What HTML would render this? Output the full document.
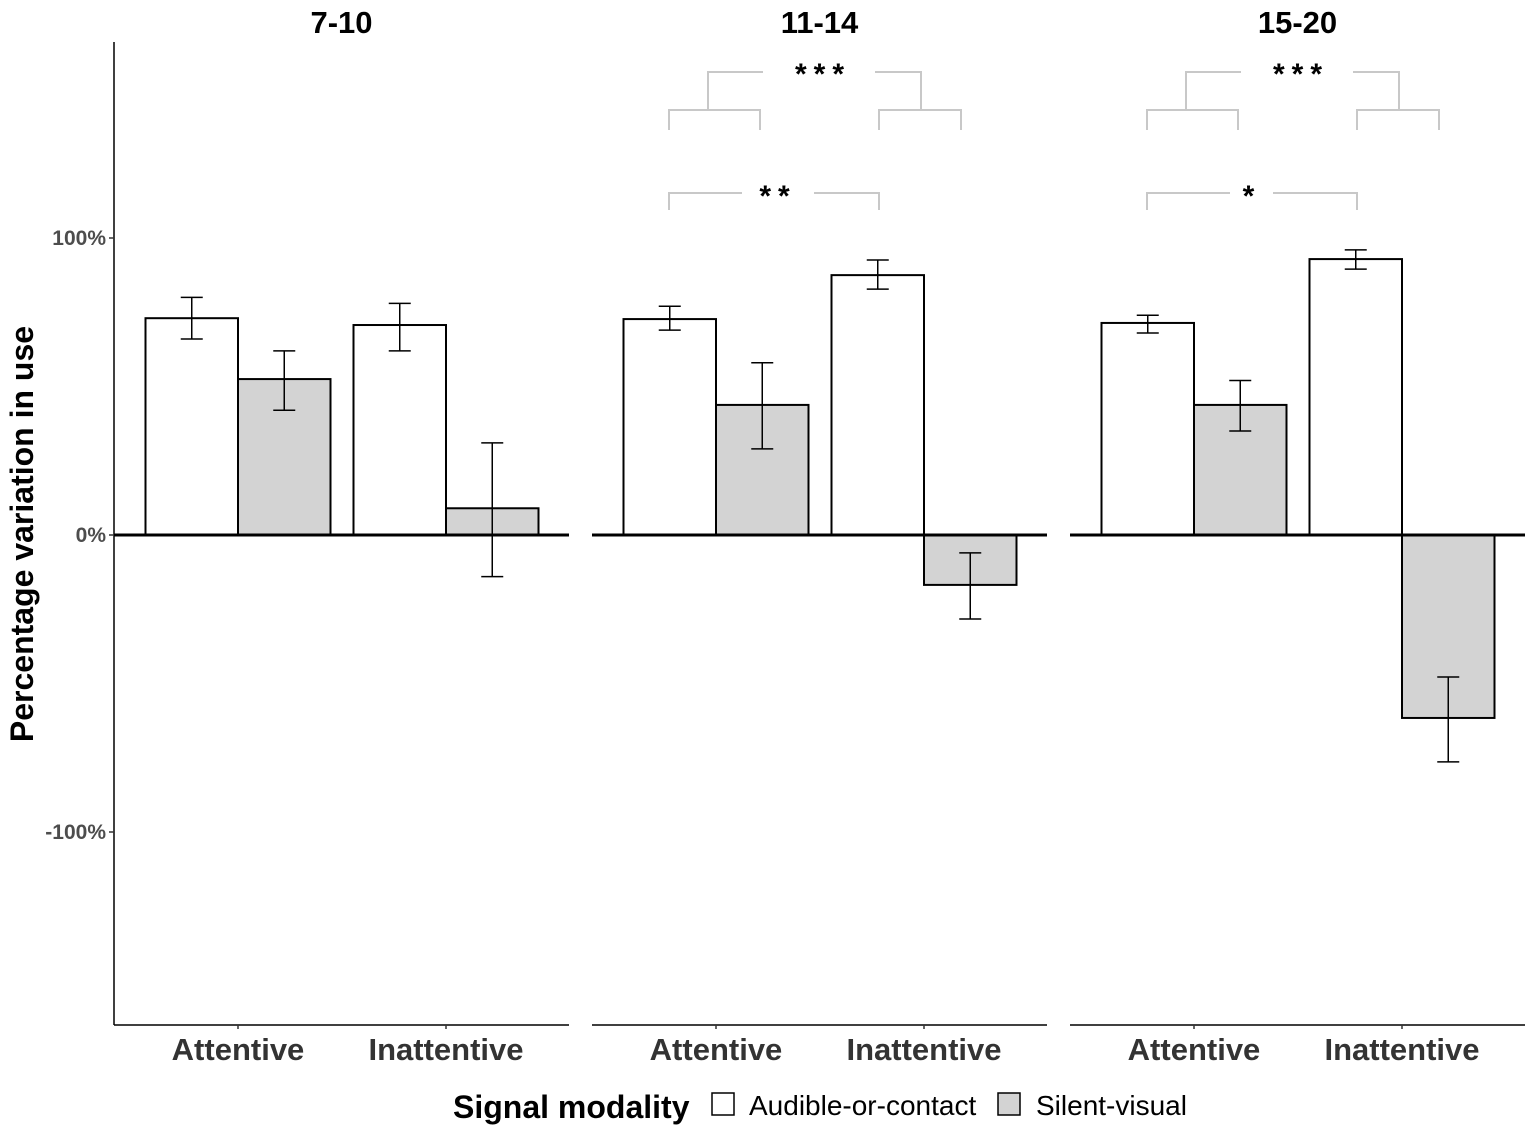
<!DOCTYPE html>
<html><head><meta charset="utf-8"><style>
body{margin:0;background:#fff}
svg text{font-family:"Liberation Sans",sans-serif}
</style></head><body>
<svg id="c" width="1535" height="1133" xmlns="http://www.w3.org/2000/svg"></svg>
<script>
const panels=["7-10","11-14","15-20"];
const categories=["Attentive","Inattentive"];
const audible=[[0.73,0.707],[0.727,0.875],[0.714,0.929]];
const audibleLo=[[0.66,0.62],[0.69,0.828],[0.68,0.895]];
const audibleHi=[[0.80,0.78],[0.77,0.926],[0.74,0.96]];
const silent=[[0.525,0.09],[0.438,-0.168],[0.438,-0.616]];
const silentLo=[[0.42,-0.14],[0.29,-0.283],[0.35,-0.764]];
const silentHi=[[0.62,0.31],[0.58,-0.06],[0.52,-0.478]];
const yTicks=[1,0,-1];
const yTickLabels=["100%","0%","-100%"];
const sigTop=["","***","***"];
const sigLow=["","**","*"];
const NS="http://www.w3.org/2000/svg";
const svg=document.getElementById('c');
function el(t,a,p){const e=document.createElementNS(NS,t);for(const k in a)e.setAttribute(k,a[k]);(p||svg).appendChild(e);return e;}
const y=v=>535-v*297;
const panelX=[114,592,1070],panelW=455,bw=92.5;
const catOff=[124,332];
let ax=el('line',{x1:114,y1:42,x2:114,y2:1025,stroke:'#000','stroke-width':1.5});

yTicks.forEach((t,i)=>{
 let l=el('line',{x1:109,x2:114,y1:y(t),y2:y(t),stroke:'#333','stroke-width':1.5});
 
 let tx=el('text',{x:106,y:y(t)+7,'text-anchor':'end','font-size':21,'font-weight':'bold',fill:'#4d4d4d'});
 tx.textContent=yTickLabels[i];
});
let yt=el('text',{x:0,y:0,transform:'translate(33,534) rotate(-90)','text-anchor':'middle','font-size':32,'font-weight':'bold'});
yt.textContent='Percentage variation in use';
function errbar(cx,lo,hi){
 const g=el('g',{stroke:'#000','stroke-width':1.5});
 
 el('line',{x1:cx,x2:cx,y1:y(hi),y2:y(lo)},g);
 el('line',{x1:cx-11,x2:cx+11,y1:y(hi),y2:y(hi)},g);
 el('line',{x1:cx-11,x2:cx+11,y1:y(lo),y2:y(lo)},g);
}
function bar(x,v,fill,name){
 const r=el('rect',{x:x,y:Math.min(y(v),y(0)),width:bw,height:Math.abs(y(v)-y(0)),fill:fill,stroke:'#000','stroke-width':2});
 
}
panels.forEach((p,pi)=>{
 const px=panelX[pi];
 let t=el('text',{x:px+panelW/2,y:33,'text-anchor':'middle','font-size':31,'font-weight':'bold'});
 t.textContent=p;
 let b=el('line',{x1:px,x2:px+panelW,y1:1025,y2:1025,stroke:'#000','stroke-width':1.5});
 
 categories.forEach((c,ci)=>{
  const cx=px+catOff[ci];
  bar(cx-bw,audible[pi][ci],'#fff','bar-audible');
  bar(cx,silent[pi][ci],'#d3d3d3','bar-silent');
  errbar(cx-bw/2,audibleLo[pi][ci],audibleHi[pi][ci]);
  errbar(cx+bw/2,silentLo[pi][ci],silentHi[pi][ci]);
  let tk=el('line',{x1:cx,x2:cx,y1:1025,y2:1029,stroke:'#333','stroke-width':1.5});
  
  let l=el('text',{x:cx,y:1060,'text-anchor':'middle','font-size':31,'font-weight':'bold',fill:'#333'});
  l.textContent=c;
 });
 let z=el('line',{x1:px,x2:px+panelW,y1:y(0),y2:y(0),stroke:'#000','stroke-width':3});
 
 if(sigTop[pi]){
  const g=el('g',{stroke:'#c8c8c8','stroke-width':2,fill:'none'});
  
  const a1=px+77,a2=px+168,i1=px+287,i2=px+369,am=px+116,im=px+329,mid=px+227;
  el('polyline',{points:`${a1},130 ${a1},110 ${a2},110 ${a2},130`},g);
  el('polyline',{points:`${i1},130 ${i1},110 ${i2},110 ${i2},130`},g);
  el('polyline',{points:`${am},110 ${am},72 ${mid-56},72`},g);
  el('polyline',{points:`${mid+56},72 ${im},72 ${im},110`},g);
  el('polyline',{points:`${a1},210 ${a1},193 ${px+(pi==1?150:160)},193`},g);
  el('polyline',{points:`${px+(pi==1?222:203)},193 ${i1},193 ${i1},210`},g);
  let s=el('text',{x:mid+4,y:84,'text-anchor':'middle','font-size':30,'font-weight':'bold','letter-spacing':7});
  s.textContent=sigTop[pi];
  let s2=el('text',{x:(pi==1?px+186:px+182),y:206,'text-anchor':'middle','font-size':30,'font-weight':'bold','letter-spacing':7});
  s2.textContent=sigLow[pi];
 }
});
const lg=el('g',{});
let lt=el('text',{x:453,y:1118,'font-size':32,'font-weight':'bold'},lg);lt.textContent='Signal modality';

let r1=el('rect',{x:712,y:1093,width:22,height:22,fill:'#fff',stroke:'#000','stroke-width':1.5},lg);

let t1=el('text',{x:749,y:1115,'font-size':28},lg);t1.textContent='Audible-or-contact';

let r2=el('rect',{x:998,y:1093,width:22,height:22,fill:'#d3d3d3',stroke:'#000','stroke-width':1.5},lg);

let t2=el('text',{x:1036,y:1115,'font-size':28},lg);t2.textContent='Silent-visual';

</script>
</body></html>
